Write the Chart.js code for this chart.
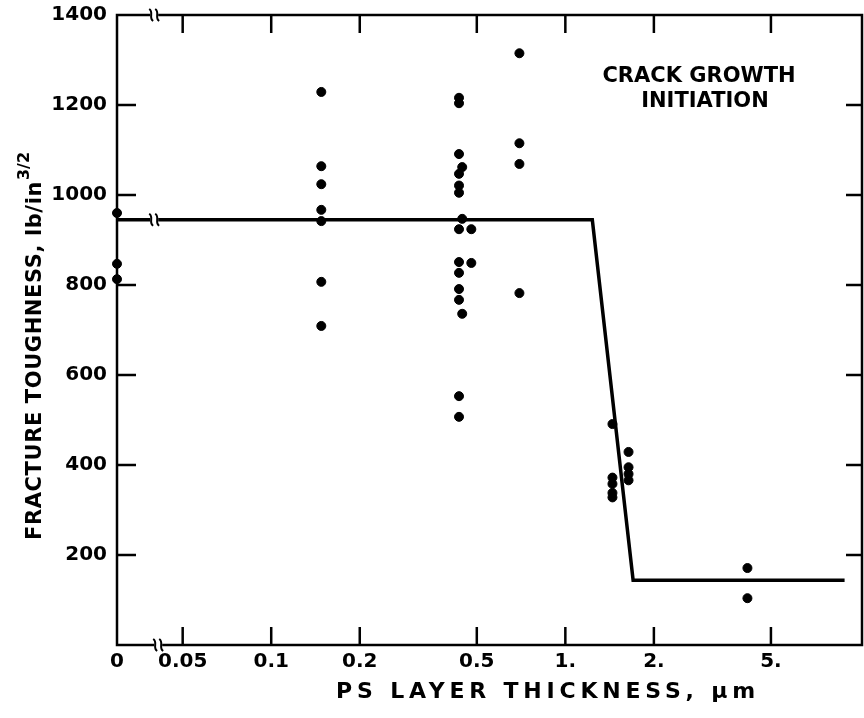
<!DOCTYPE html>
<html>
<head>
<meta charset="utf-8">
<script src="https://cdn.jsdelivr.net/npm/chart.js@4.4.0/dist/chart.umd.min.js"></script>
<style>
  html, body { margin: 0; padding: 0; background: #fff; overflow: hidden; }
  canvas { display: block; }
</style>
</head>
<body>
<canvas id="chart" width="864" height="718"></canvas>
<script>
// axis setup (log scale, "0" sits at the left end after the break)
const X_MIN = 0.0299, X_MAX = 10.2;
const BREAK_AT = 0.04;
const xTicks = [0, 0.05, 0.1, 0.2, 0.5, 1, 2, 5];
const xTickLabels = ['0', '0.05', '0.1', '0.2', '0.5', '1.', '2.', '5.'];
const yTicks = [200, 400, 600, 800, 1000, 1200, 1400];

// PS layer thickness (um) of each column of points, and the toughness values in it
const groupThickness = [0, 0.148, 0.435, 0.446, 0.479, 0.698, 1.446, 1.64, 4.16];
const groupToughness = [
  [960, 847, 813],
  [1229, 1064, 1024, 967, 942, 807, 709],
  [1216, 1204, 1091, 1047, 1021, 1005, 924, 851, 827, 791, 767, 553, 507],
  [1062, 947, 736],
  [924, 849],
  [1315, 1115, 1069, 782],
  [491, 372, 358, 338, 328],
  [429, 395, 380, 366],
  [171, 104]
];

// fitted step line
const fitThickness = [0, 1.235, 1.70, 8.9];
const fitToughness = [945, 945, 144, 144];

const FONT = '"DejaVu Sans", "Liberation Sans", sans-serif';
const toX = v => (v === 0 ? X_MIN : v);

const points = [];
groupThickness.forEach((t, i) => {
  groupToughness[i].forEach(k => points.push({ x: toX(t), y: k }));
});
const fitLine = fitThickness.map((t, i) => ({ x: toX(t), y: fitToughness[i] }));

function drawBreak(ctx, x, y) {
  ctx.save();
  ctx.fillStyle = '#fff';
  ctx.fillRect(x - 4, y - 3, 8, 6);
  ctx.strokeStyle = '#000';
  ctx.lineWidth = 2;
  [-3, 3].forEach(dx => {
    ctx.beginPath();
    ctx.moveTo(x + dx - 2, y - 6);
    ctx.bezierCurveTo(x + dx + 3, y - 3, x + dx - 3, y + 3, x + dx + 2, y + 6);
    ctx.stroke();
  });
  ctx.restore();
}

const framePlugin = {
  id: 'frame',
  afterDatasetsDraw(chart) {
    const { ctx, chartArea: a, scales } = chart;
    const xs = scales.x, ys = scales.y;
    ctx.save();
    ctx.strokeStyle = '#000';
    ctx.lineWidth = 2.5;
    ctx.strokeRect(a.left, a.top, a.right - a.left, a.bottom - a.top);

    ctx.beginPath();
    xTicks.forEach(v => {
      if (v === 0) return;
      const px = xs.getPixelForValue(v);
      ctx.moveTo(px, a.bottom); ctx.lineTo(px, a.bottom - 18);
      ctx.moveTo(px, a.top); ctx.lineTo(px, a.top + 18);
    });
    yTicks.forEach(v => {
      if (v === 1400) return;
      const py = ys.getPixelForValue(v);
      ctx.moveTo(a.left, py); ctx.lineTo(a.left + 19, py);
      ctx.moveTo(a.right, py); ctx.lineTo(a.right - 16, py);
    });
    ctx.stroke();

    const bx = xs.getPixelForValue(BREAK_AT);
    drawBreak(ctx, bx, a.top);
    drawBreak(ctx, bx + 4, a.bottom);
    drawBreak(ctx, bx, ys.getPixelForValue(fitToughness[0]));

    // annotation
    ctx.fillStyle = '#000';
    ctx.font = 'bold 21px ' + FONT;
    ctx.textAlign = 'center';
    ctx.textBaseline = 'alphabetic';
    ctx.fillText('CRACK GROWTH', 699, 82);
    ctx.fillText('INITIATION', 705, 107);

    // x axis title
    ctx.font = 'bold 22px ' + FONT;
    ctx.letterSpacing = '4.8px';
    ctx.fillText('PS LAYER THICKNESS, \u03bcm', 548, 698);

    // y axis title with superscript
    ctx.font = 'bold 21px ' + FONT;
    ctx.letterSpacing = '0.6px';
    ctx.translate(41, 540);
    ctx.rotate(-Math.PI / 2);
    ctx.textAlign = 'left';
    const main = 'FRACTURE TOUGHNESS, lb/in';
    ctx.fillText(main, 0, 0);
    const w = ctx.measureText(main).width;
    ctx.font = 'bold 16px ' + FONT;
    ctx.letterSpacing = '0px';
    ctx.fillText('3/2', w + 1, -12);
    ctx.restore();
  }
};

new Chart(document.getElementById('chart'), {
  type: 'scatter',
  data: {
    datasets: [
      {
        data: points,
        backgroundColor: '#000',
        borderColor: '#000',
        pointRadius: 4.5,
        pointHoverRadius: 4.5,
        clip: false
      },
      {
        type: 'line',
        data: fitLine,
        borderColor: '#000',
        borderWidth: 3.5,
        pointRadius: 0,
        fill: false,
        tension: 0,
        clip: false
      }
    ]
  },
  options: {
    responsive: false,
    animation: false,
    devicePixelRatio: 1,
    layout: { autoPadding: false, padding: { top: 15, right: 2, left: 0, bottom: 0 } },
    plugins: { legend: { display: false }, tooltip: { enabled: false } },
    scales: {
      x: {
        type: 'logarithmic',
        min: X_MIN,
        max: X_MAX,
        grid: { display: false },
        border: { display: false },
        afterBuildTicks: scale => {
          scale.ticks = xTicks.map(v => ({ value: toX(v) }));
        },
        afterFit: scale => {
          scale.height = 73;
          scale.paddingLeft = 0;
          scale.paddingRight = 0;
        },
        ticks: {
          autoSkip: false,
          maxRotation: 0,
          padding: -3,
          color: '#000',
          font: { family: FONT, size: 20, weight: 'bold' },
          callback: (value, index) => xTickLabels[index]
        }
      },
      y: {
        min: 0,
        max: 1400,
        grid: { display: false },
        border: { display: false },
        afterBuildTicks: scale => {
          scale.ticks = yTicks.map(v => ({ value: v }));
        },
        afterFit: scale => { scale.width = 117; },
        ticks: {
          padding: 2,
          color: '#000',
          font: { family: FONT, size: 20, weight: 'bold' },
          callback: v => String(v)
        }
      }
    }
  },
  plugins: [framePlugin]
});
</script>
</body>
</html>
